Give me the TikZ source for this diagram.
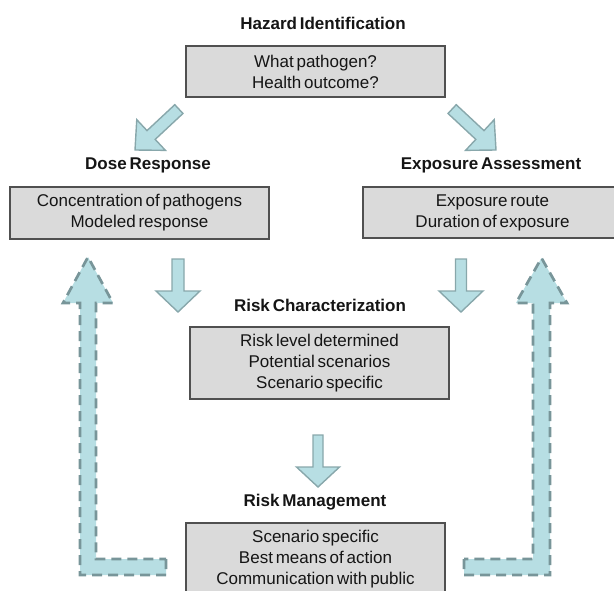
\documentclass[tikz,border=0pt]{standalone}
\usepackage{fontspec}
\setmainfont{Liberation Sans}[WordSpace=0.6]
\definecolor{boxfill}{HTML}{DADADA}
\definecolor{boxline}{HTML}{505050}
\definecolor{txt}{HTML}{151515}
\definecolor{arrowfill}{HTML}{B7DEE3}
\definecolor{arrowline}{HTML}{88A7AB}
\definecolor{dashline}{HTML}{789599}
\newcommand\BlkArrow[7]{%
  \begin{scope}[shift={#1},rotate=#2]
    \draw[#7] (0,0) -- (-#4,#5) -- (-#4,#6) -- (-#3,#6) -- (-#3,-#6) -- (-#4,-#6) -- (-#4,-#5) -- cycle;
  \end{scope}}
\begin{document}
\begin{tikzpicture}[x=1pt,y=-1pt,
  box/.style={draw=boxline, fill=boxfill, line width=1.2pt, minimum width=259pt,
    align=center, inner sep=0pt, font=\fontsize{17}{21}\selectfont, text=txt},
  ttl/.style={font=\fontsize{17}{21}\selectfont\bfseries, text=txt, inner sep=0pt},
  smallarrow/.style={fill=arrowfill, draw=arrowline, line width=1.4pt, line join=miter},
  feedback/.style={fill=arrowfill, draw=dashline, line width=2.7pt,
    dash pattern=on 10pt off 6pt, line join=miter}]
\useasboundingbox (0,0) rectangle (614,590);
\begin{scope}
\clip (0,0) rectangle (614,590);
% feedback arrows
\draw[feedback] (166,559) -- (166,575) -- (80,575) -- (80,303) -- (63,303) -- (88,257)
  -- (113,303) -- (96,303) -- (96,559) -- cycle;
\draw[feedback] (464,559) -- (464,575) -- (550,575) -- (550,303) -- (567,303) -- (541.5,258)
  -- (516,303) -- (533,303) -- (533,559) -- cycle;
% block arrows
\BlkArrow{(135,150)}{223}{60}{22}{21}{6}{smallarrow}
\BlkArrow{(496,150)}{-43}{60}{22}{21}{6}{smallarrow}
\BlkArrow{(178,312)}{-90}{53}{21}{22}{6}{smallarrow}
\BlkArrow{(461,312)}{-90}{53}{21}{22}{5.5}{smallarrow}
\BlkArrow{(318,487)}{-90}{52}{20}{21.5}{5}{smallarrow}
% titles and boxes
\node[ttl] (hazT) at (323,23) {Hazard Identification};
\node[box, minimum height=51pt] (haz) at (315.5,71.5) {What pathogen?\\Health outcome?};
\node[ttl] (doseT) at (148,165) {Dose Response};
\node[box, minimum height=52pt] (dose) at (139.5,213) {Concentration of pathogens\\Modeled response};
\node[ttl] (expT) at (491,165) {Exposure Assessment};
\node[box, minimum height=51pt] (expo) at (492.5,212.5) {Exposure route\\Duration of exposure};
\node[ttl] (rcT) at (320,305) {Risk Characterization};
\node[box, minimum height=72pt] (rc) at (319.5,363) {Risk level determined\\Potential scenarios\\Scenario specific};
\node[ttl] (rmT) at (315,502) {Risk Management};
\node[box, minimum height=72pt] (rm) at (315.5,559) {Scenario specific\\Best means of action\\Communication with public};
\end{scope}
\end{tikzpicture}
\end{document}
